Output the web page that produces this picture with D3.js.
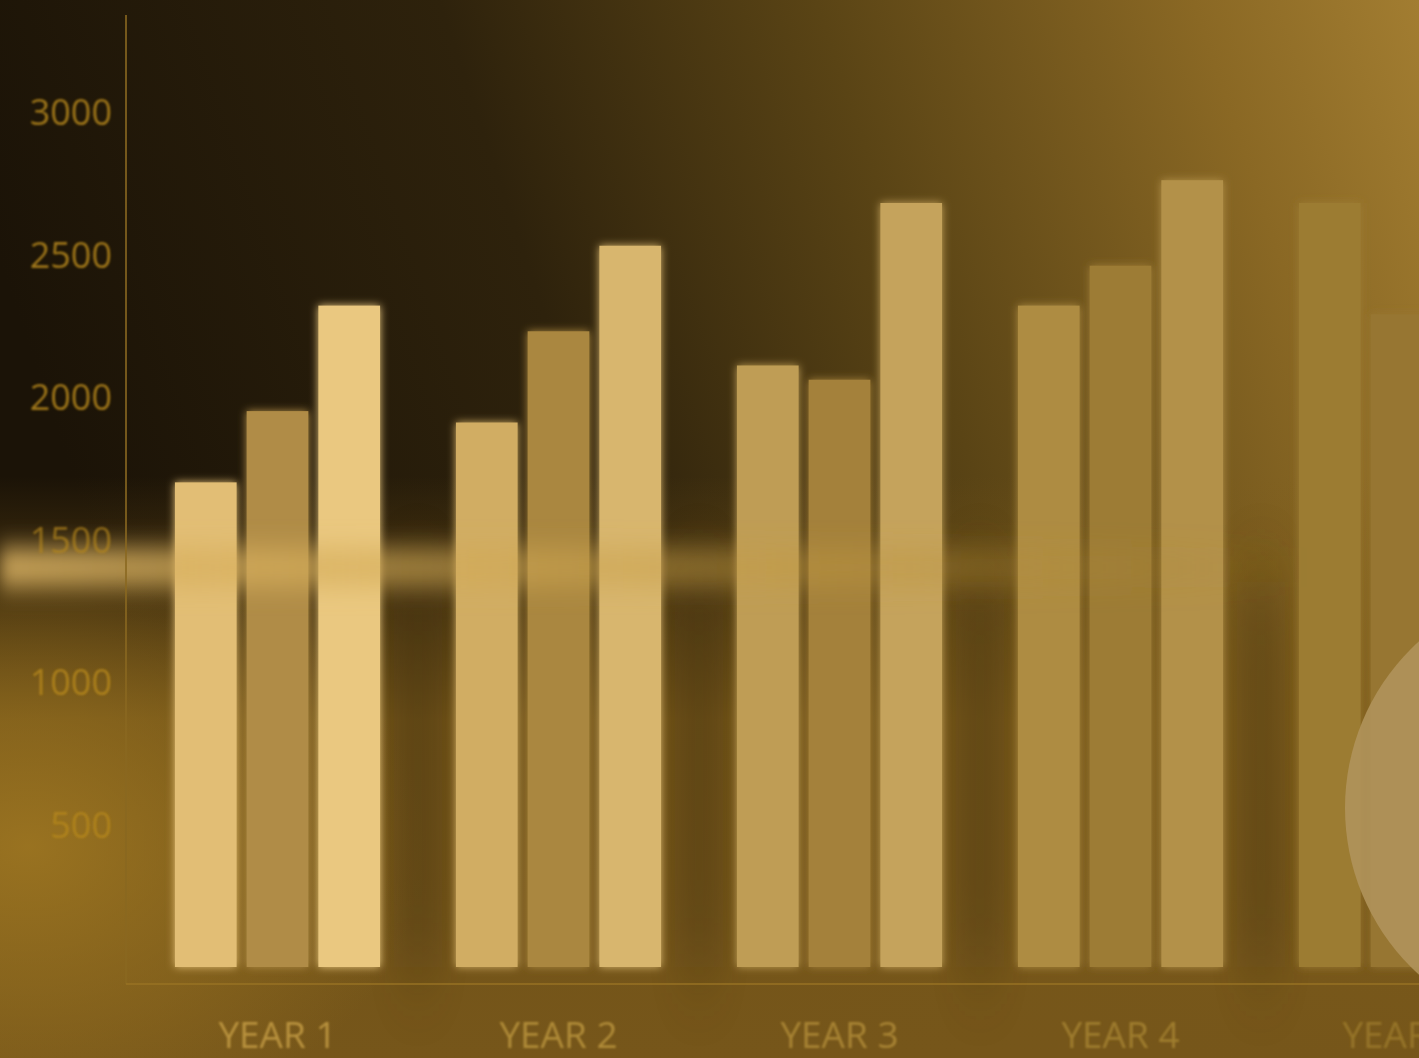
<!DOCTYPE html>
<html lang="en">
<head>
<meta charset="UTF-8">
<title>Yearly Bars</title>
<script src="https://d3js.org/d3.v7.min.js"></script>
<style>
    html, body { margin: 0; padding: 0; background: #1c1408; overflow: hidden; }
    svg { display: block; }
    text { font-family: "Open Sans", "Noto Sans", sans-serif; }
</style>
</head>
<body>
<div id="chart"></div>
<script>
// data
const years = ["YEAR 1", "YEAR 2", "YEAR 3", "YEAR 4", "YEAR 5"];
const seriesKeys = ["a", "b", "c"];
const seriesA = [1700, 1910, 2110, 2320, 2680];
const seriesB = [1950, 2230, 2060, 2460, 2290];
const seriesC = [2320, 2530, 2680, 2760, 2700];
const yTicks = [500, 1000, 1500, 2000, 2500, 3000];

const W = 1419, H = 1058;

const rows = years.map((y, i) => ({ year: y, a: seriesA[i], b: seriesB[i], c: seriesC[i] }));

const svg = d3.select("#chart").append("svg")
    .attr("width", W)
    .attr("height", H);

const defs = svg.append("defs");

// background gradients
const bg = defs.append("linearGradient").attr("id", "bg")
    .attr("x1", 0).attr("y1", 0.25).attr("x2", 1).attr("y2", 0);
bg.append("stop").attr("offset", 0).attr("stop-color", "#1b1307");
bg.append("stop").attr("offset", 0.35).attr("stop-color", "#2e220c");
bg.append("stop").attr("offset", 0.6).attr("stop-color", "#5a4415");
bg.append("stop").attr("offset", 0.85).attr("stop-color", "#8a6824");
bg.append("stop").attr("offset", 1).attr("stop-color", "#a27d31");

const lower = defs.append("linearGradient").attr("id", "lower")
    .attr("x1", 0).attr("y1", 0).attr("x2", 0).attr("y2", 1);
lower.append("stop").attr("offset", 0.45).attr("stop-color", "#7e5c1a").attr("stop-opacity", 0);
lower.append("stop").attr("offset", 0.68).attr("stop-color", "#7c5b1a").attr("stop-opacity", 0.85);
lower.append("stop").attr("offset", 1).attr("stop-color", "#76561a").attr("stop-opacity", 1);

const leftGlow = defs.append("radialGradient").attr("id", "leftGlow")
    .attr("cx", 0.02).attr("cy", 0.8).attr("r", 0.28);
leftGlow.append("stop").attr("offset", 0).attr("stop-color", "#a07822").attr("stop-opacity", 0.85);
leftGlow.append("stop").attr("offset", 1).attr("stop-color", "#a07822").attr("stop-opacity", 0);

const band = defs.append("linearGradient").attr("id", "band")
    .attr("x1", 0).attr("y1", 0).attr("x2", 1).attr("y2", 0);
band.append("stop").attr("offset", 0).attr("stop-color", "#dcb464").attr("stop-opacity", 0.85);
band.append("stop").attr("offset", 0.3).attr("stop-color", "#d4ac58").attr("stop-opacity", 0.6);
band.append("stop").attr("offset", 0.65).attr("stop-color", "#bc943c").attr("stop-opacity", 0.35);
band.append("stop").attr("offset", 0.92).attr("stop-color", "#a88430").attr("stop-opacity", 0);

const blur = defs.append("filter").attr("id", "blur")
    .attr("x", "-10%").attr("y", "-200%").attr("width", "120%").attr("height", "500%");
blur.append("feGaussianBlur").attr("stdDeviation", "8 12");

const shade = defs.append("filter").attr("id", "shade")
    .attr("x", "-50%").attr("y", "-50%").attr("width", "200%").attr("height", "200%");
shade.append("feGaussianBlur").attr("stdDeviation", "14 40");

const glow = defs.append("filter").attr("id", "glow")
    .attr("x", "-20%").attr("y", "-20%").attr("width", "140%").attr("height", "140%");
glow.append("feGaussianBlur").attr("in", "SourceGraphic").attr("stdDeviation", 4).attr("result", "b");
const merge = glow.append("feMerge");
merge.append("feMergeNode").attr("in", "b");
merge.append("feMergeNode").attr("in", "SourceGraphic");

const soft = defs.append("filter").attr("id", "soft");
soft.append("feGaussianBlur").attr("stdDeviation", 0.8);

svg.append("rect").attr("width", W).attr("height", H).attr("fill", "url(#bg)");
svg.append("rect").attr("width", W).attr("height", H).attr("fill", "url(#lower)");
svg.append("rect").attr("width", W).attr("height", H).attr("fill", "url(#leftGlow)");

// scales
const y = d3.scaleLinear().domain([0, 3350]).range([967, 12]);

const x0 = d3.scaleBand()
    .domain(years)
    .range([137, 1542])
    .paddingInner(0.27)
    .paddingOuter(0.135);

const x1 = d3.scaleBand()
    .domain(seriesKeys)
    .range([0, x0.bandwidth()])
    .paddingInner(0.14);

// colours fade as the bars go right
const startCol = { a: "#e2be74", b: "#b08c46", c: "#eac880" };
const endCol = { a: "#9c7b33", b: "#977630", c: "#a07e36" };
function barFill(key, year) {
    const t = (x0(year) - x0(years[0])) / (x0(years[4]) - x0(years[0]));
    return d3.interpolateRgb(startCol[key], endCol[key])(t);
}

// soft shadows between groups
svg.append("g").selectAll("rect")
    .data(years.slice(0, 4))
    .join("rect")
    .attr("x", d => x0(d) + x0.bandwidth() + 14)
    .attr("y", y(1350))
    .attr("width", x0.step() - x0.bandwidth() - 28)
    .attr("height", y(0) - y(1350))
    .attr("fill", "#3a2a0a")
    .attr("opacity", 0.3)
    .attr("filter", "url(#shade)");

// bars
const groups = svg.append("g")
    .selectAll("g")
    .data(rows)
    .join("g")
    .attr("transform", d => `translate(${x0(d.year)},0)`);

groups.selectAll("rect")
    .data(d => seriesKeys.map(k => ({ key: k, year: d.year, value: d[k] })))
    .join("rect")
    .attr("x", d => x1(d.key))
    .attr("y", d => y(d.value))
    .attr("width", x1.bandwidth())
    .attr("height", d => y(0) - y(d.value))
    .attr("fill", d => barFill(d.key, d.year))
    .attr("filter", "url(#glow)");

// glowing horizontal band
svg.append("rect")
    .attr("x", 0)
    .attr("y", y(1500) + 8)
    .attr("width", W)
    .attr("height", 40)
    .attr("fill", "url(#band)")
    .attr("filter", "url(#blur)");

// axes
const yAxis = svg.append("g")
    .attr("transform", "translate(112,0)")
    .call(d3.axisLeft(y).tickValues(yTicks).tickFormat(d3.format("d")).tickSize(0).tickPadding(0));
yAxis.select(".domain").remove();
yAxis.selectAll("text")
    .attr("font-size", 36)
    .attr("font-family", "Open Sans, sans-serif")
    .attr("fill", "#b4861e")
    .attr("dy", "0.36em")
    .attr("opacity", d => d === 1500 ? 0.7 : 0.85)
    .attr("filter", "url(#soft)");

svg.append("line")
    .attr("x1", 126).attr("x2", 126)
    .attr("y1", y(3350) + 3).attr("y2", y(0) + 17)
    .attr("stroke", "#8a6820").attr("stroke-width", 2).attr("opacity", 0.8);

svg.append("line")
    .attr("x1", 126).attr("x2", W)
    .attr("y1", y(0) + 17).attr("y2", y(0) + 17)
    .attr("stroke", "#9a7424").attr("stroke-width", 2).attr("opacity", 0.7);

const xAxis = svg.append("g")
    .attr("transform", `translate(0,${y(0) + 17})`)
    .call(d3.axisBottom(x0).tickSize(0).tickPadding(0));
xAxis.select(".domain").remove();
xAxis.selectAll("text")
    .attr("font-size", 37)
    .attr("font-family", "Open Sans, sans-serif")
    .attr("y", 64)
    .attr("dy", 0)
    .attr("fill", (d, i) => d3.interpolateRgb("#c49c44", "#9c7a2c")(i / 4))
    .attr("opacity", 0.85)
    .attr("filter", "url(#soft)");

// pale disc at the right
svg.append("circle")
    .attr("cx", 1570)
    .attr("cy", 808)
    .attr("r", 225)
    .attr("fill", "#b0935a")
    .attr("opacity", 0.92);
</script>
</body>
</html>
